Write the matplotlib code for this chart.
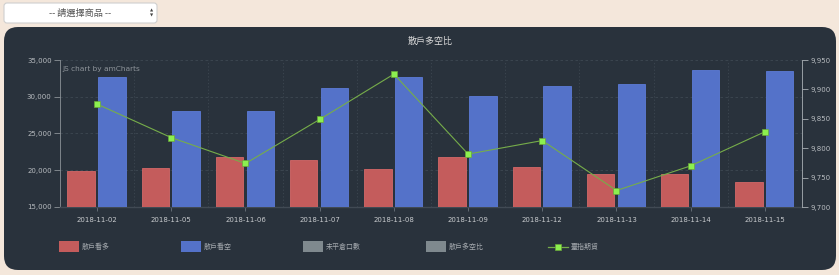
import matplotlib
matplotlib.use('Agg')
import matplotlib.pyplot as plt
import numpy as np
from matplotlib.patches import FancyBboxPatch, Rectangle
from matplotlib.ticker import FuncFormatter

plt.rcParams['font.family'] = ['DejaVu Sans', 'Noto Sans CJK TC']

dates = ['2018-11-02', '2018-11-05', '2018-11-06', '2018-11-07', '2018-11-08',
         '2018-11-09', '2018-11-12', '2018-11-13', '2018-11-14', '2018-11-15']
retail_long = [19900, 20350, 21760, 21350, 20170, 21800, 20440, 19490, 19450, 18360]
retail_short = [32650, 28100, 28100, 31150, 32730, 30100, 31460, 31700, 33640, 33550]
taifex = [9875, 9818, 9774, 9849, 9926, 9790, 9813, 9728, 9770, 9828]

legend_names = ['散戶看多', '散戶看空', '未平倉口數', '散戶多空比', '臺指期貨']
title = '散戶多空比'

panel = '#29323c'
txt = '#b8bcc0'
red = '#c45c5c'
blue = '#5472c9'
gray = '#7f898e'
green_line = '#76ad4a'
green_mark = '#8cf04f'

W, H = 839, 275
fig = plt.figure(figsize=(W / 100, H / 100), dpi=100)
fig.patch.set_facecolor('#f4e7db')

# background layer in pixel coordinates
bg = fig.add_axes([0, 0, 1, 1], zorder=-5)
bg.set_xlim(0, W)
bg.set_ylim(H, 0)
bg.axis('off')
bg.add_patch(FancyBboxPatch((4, 27), 832, 243, boxstyle='round,pad=0,rounding_size=14',
                            fc=panel, ec='none'))
bg.add_patch(FancyBboxPatch((4, 3), 153, 20, boxstyle='round,pad=0,rounding_size=3',
                            fc='white', ec='#cfcfcf', lw=0.8))
bg.text(80, 13.5, '-- 請選擇商品 --', ha='center', va='center', fontsize=6.6,
        color='#555555', family=['Noto Sans CJK TC', 'DejaVu Sans'])
bg.text(152, 10.5, '▲', ha='center', va='center', fontsize=3, color='#444444')
bg.text(152, 15.5, '▼', ha='center', va='center', fontsize=3, color='#444444')

# legend (drawn by hand to get the even amCharts spacing)
leg_x = [59, 181, 303, 426, 548]
leg_colors = [red, blue, gray, gray, None]
for x0, name, c in zip(leg_x, legend_names, leg_colors):
    if c is None:
        bg.plot([x0, x0 + 20], [246.5, 246.5], color=green_line, lw=0.9)
        bg.plot([x0 + 10], [246.5], marker='s', ms=4.5, color=green_mark,
                mec='#6aa83a', mew=0.5)
    else:
        bg.add_patch(Rectangle((x0, 241), 20, 11, fc=c, ec='none'))
    bg.text(x0 + 23, 246.8, name, ha='left', va='center', fontsize=5,
            color='#a4a9ae', family=['Noto Sans CJK TC', 'DejaVu Sans'])

bg.text(430, 41, title, ha='center', va='center', fontsize=6.5, color='#dcdcdc',
        family=['Noto Sans CJK TC', 'DejaVu Sans'])

# main chart
ax = fig.add_axes([60 / W, 1 - 207 / H, 742 / W, 147 / H])
ax.set_facecolor('none')
x = np.arange(len(dates))
bw = 0.37
ax.bar(x - 0.215, np.array(retail_long) - 15000, bw, bottom=15000, color=red,
       edgecolor='#d46868', lw=0.6, zorder=3)
ax.bar(x + 0.2, np.array(retail_short) - 15000, bw, bottom=15000, color=blue,
       edgecolor='#5d7bd8', lw=0.6, zorder=3)
ax.set_ylim(15000, 35000)
ax.set_xlim(-0.5, len(dates) - 0.5)
ax.set_yticks(np.arange(15000, 35001, 5000))
ax.yaxis.set_major_formatter(FuncFormatter(lambda v, p: f'{int(v):,}'))
ax.set_xticks(x)
ax.set_xticklabels(dates)
ax.set_xticks(np.arange(0.5, len(dates) - 0.5, 1), minor=True)
ax.grid(axis='y', which='major', color='#3e4852', ls=(0, (3, 3)), lw=0.6, zorder=0)
ax.grid(axis='x', which='minor', color='#3e4852', ls=(0, (1.5, 2.5)), lw=0.6, zorder=0)
ax.tick_params(axis='x', which='minor', length=0)
ax.tick_params(axis='x', which='major', length=3, width=0.6, color='#6a737c',
               labelsize=5, labelcolor='#c8cbce', pad=4)
ax.tick_params(axis='y', length=4, width=0.6, color='#8c9298', labelsize=5,
               labelcolor=txt, pad=2)
for s in ['top', 'right']:
    ax.spines[s].set_visible(False)
ax.spines['left'].set_color('#8c9298')
ax.spines['left'].set_linewidth(0.6)
ax.spines['bottom'].set_color('#414a54')
ax.spines['bottom'].set_linewidth(1)
ax.text(0.003, 0.96, 'JS chart by amCharts', transform=ax.transAxes, fontsize=5.3,
        color='#8e949a', ha='left', va='top')

ax2 = ax.twinx()
ax2.plot(x, taifex, color=green_line, lw=0.8, marker='s', ms=4.5,
         mfc=green_mark, mec='#6aa83a', mew=0.5, zorder=5)
ax2.set_ylim(9700, 9950)
ax2.set_yticks(np.arange(9700, 9951, 50))
ax2.yaxis.set_major_formatter(FuncFormatter(lambda v, p: f'{int(v):,}'))
ax2.tick_params(axis='y', length=4, width=0.6, color='#aab0b5', labelsize=5,
                labelcolor=txt, pad=2)
for s in ['top', 'left', 'bottom']:
    ax2.spines[s].set_visible(False)
ax2.spines['right'].set_color('#aab0b5')
ax2.spines['right'].set_linewidth(0.6)

fig.savefig('out.png', dpi=100, facecolor=fig.get_facecolor())
